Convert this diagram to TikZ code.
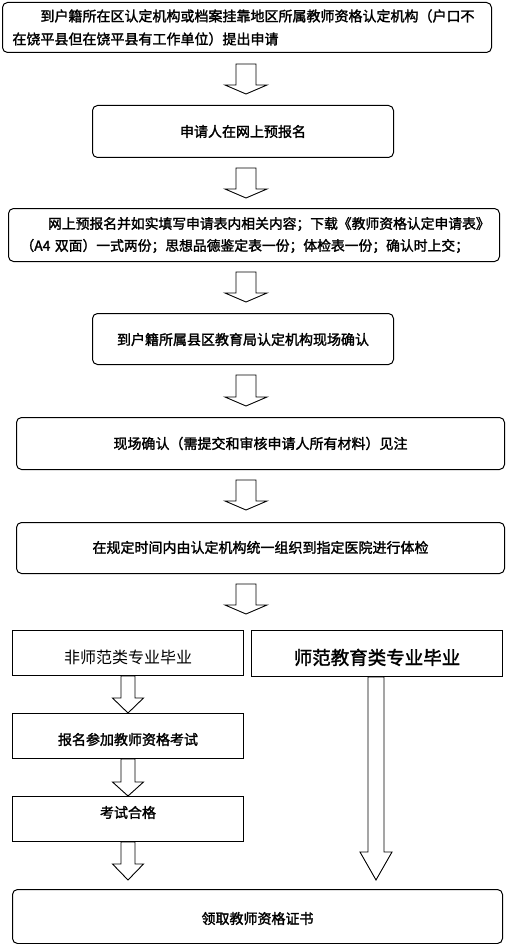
\documentclass[tikz,border=0pt]{standalone}
\usepackage{fontspec}
\newfontfamily\cjk{Noto Sans CJK SC}
\newfontfamily\cjkb[FakeBold=1.8]{Noto Sans CJK SC}
\usetikzlibrary{calc}
\newcommand\blkarrow[8]{%
 \path[arr] ($(#3,0 |- #1.south)+(-#6,#4)$) -- ($(#3,0 |- #2.north)+(-#6,-#5-#8)$)
  -- ($(#3,0 |- #2.north)+(-#7,-#5-#8)$) -- ($(#3,0 |- #2.north)+(0,-#5)$)
  -- ($(#3,0 |- #2.north)+(#7,-#5-#8)$) -- ($(#3,0 |- #2.north)+(#6,-#5-#8)$)
  -- ($(#3,0 |- #1.south)+(#6,#4)$) -- cycle;}
\begin{document}
\begin{tikzpicture}[x=1pt,y=-1pt,line width=1pt,
  box/.style={draw,inner ysep=0pt,inner xsep=0pt,anchor=north west,
    font=\cjkb\fontsize{14}{23}\selectfont},
  rbox/.style={box,rounded corners=5pt},
  arr/.style={draw,line width=0.9pt,line join=miter,fill=white}]
\useasboundingbox[fill=white] (0,0) rectangle (506,944);

\node[rbox,minimum width=489pt,minimum height=50pt,text width=469pt,inner xsep=10pt,align=left] (b1) at (2,2)
  {\hspace*{2em}到户籍所在区认定机构或档案挂靠地区所属教师资格认定机构（户口不\\在饶平县但在饶平县有工作单位）提出申请};
\node[rbox,minimum width=301pt,text height=31.3pt,text depth=20.7pt] (b2) at (92,105) {申请人在网上预报名};
\node[rbox,minimum width=491pt,minimum height=53pt,text width=467pt,inner xsep=12pt,align=left,
  font=\cjkb\fontsize{13.8}{22}\selectfont] (b3) at (8,208)
  {\hspace*{2em}网上预报名并如实填写申请表内相关内容；下载《教师资格认定申请表》\\（A4 双面）一式两份；思想品德鉴定表一份；体检表一份；确认时上交；};
\node[rbox,minimum width=301pt,text height=31.3pt,text depth=19.7pt] (b4) at (92,313) {到户籍所属县区教育局认定机构现场确认};
\node[rbox,minimum width=488pt,text height=31.3pt,text depth=20.7pt] (b5) at (16,417) {现场确认（需提交和审核申请人所有材料）见注};
\node[rbox,minimum width=488pt,text height=30.3pt,text depth=20.7pt] (b6) at (16,522) {在规定时间内由认定机构统一组织到指定医院进行体检};
\node[box,minimum width=231pt,text height=33.1pt,text depth=11.9pt,font=\cjk\fontsize{16}{20}\selectfont] (bA) at (12,630) {非师范类专业毕业};
\node[box,minimum width=251pt,text height=34pt,text depth=12pt,font=\cjkb\fontsize{18.5}{22}\selectfont] (bB) at (251,630) {师范教育类专业毕业};
\node[box,minimum width=231pt,text height=31.3pt,text depth=13.7pt] (bC) at (12,713) {报名参加教师资格考试};
\node[box,minimum width=231pt,text height=21.3pt,text depth=23.7pt] (bD) at (12,796) {考试合格};
\node[rbox,minimum width=490pt,text height=34.3pt,text depth=19.7pt] (bE) at (12,889) {领取教师资格证书};

\blkarrow{b1}{b2}{246}{11}{11}{10}{21}{9}
\blkarrow{b2}{b3}{246}{10}{10}{10}{21}{9}
\blkarrow{b3}{b4}{246}{10}{11}{10}{21}{9}
\blkarrow{b4}{b5}{246}{10}{11}{10}{21}{9}
\blkarrow{b5}{b6}{246}{10}{12}{10}{21}{9}
\blkarrow{b6}{bA}{246}{10}{16}{10}{21}{9}
\blkarrow{bA}{bC}{128}{0}{0}{7}{15.5}{15}
\blkarrow{bC}{bD}{128}{0}{0}{7}{15.5}{14}
\blkarrow{bD}{bE}{128}{0}{9}{7}{15.5}{16}
\blkarrow{bB}{bE}{376}{0}{9}{8}{16}{28}
\end{tikzpicture}
\end{document}
